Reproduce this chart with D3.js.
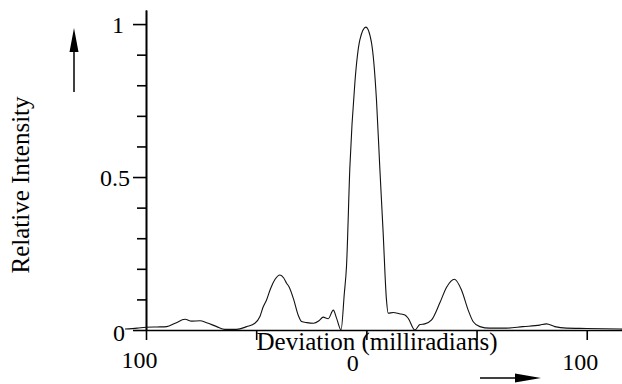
<!DOCTYPE html>
<html>
<head>
<meta charset="utf-8">
<script src="https://cdn.jsdelivr.net/npm/d3@7"></script>
<style>
  body { margin: 0; background: #fff; }
  svg { display: block; }
  text { font-family: "Liberation Serif", "Times New Roman", serif; fill: #000; }
</style>
</head>
<body>
<div id="chart"></div>
<script>
// deviation in milliradians
var deviation = [-109.5, -104, -100, -95, -90.6, -86.8, -82.3, -79.3, -75.5, -72.5,
    -67.9, -64.2, -58.9, -54.3, -50.6, -48.3, -46.8, -45.3, -43.5, -41.5,
    -39.2, -37.5, -36.2, -35, -33, -31, -29.4, -27, -24, -21.5,
    -19.6, -17.3, -15, -13.5, -11.5, -10, -9, -7.5, -5.2, -2.9,
    -0.2, 2.3, 4.6, 6.1, 7.6, 9.1, 9.9, 12.2, 15, 17.5,
    19, 22, 24.3, 26.5, 29.6, 33.3, 36.4, 40, 43.2, 46.2,
    48.5, 51.5, 56, 63.6, 71, 78.7, 81.7, 85.5, 90.8, 100, 116];
// relative intensity at each deviation
var intensity = [0.003, 0.006, 0.009, 0.010, 0.011, 0.022, 0.035, 0.029, 0.030, 0.024,
    0.011, 0.002, 0.002, 0.011, 0.022, 0.044, 0.076, 0.098, 0.135, 0.165,
    0.180, 0.170, 0.153, 0.140, 0.100, 0.050, 0.028, 0.024, 0.022, 0.030,
    0.042, 0.037, 0.065, 0.038, 0.0, 0.12, 0.21, 0.53, 0.81, 0.95,
    0.99, 0.94, 0.75, 0.53, 0.32, 0.10, 0.055, 0.057, 0.053, 0.049,
    0.038, 0.0, 0.018, 0.020, 0.033, 0.088, 0.14, 0.166, 0.13, 0.065,
    0.027, 0.011, 0.006, 0.006, 0.011, 0.016, 0.020, 0.011, 0.006, 0.005, 0.003];

var xTicks = [-100, -50, 0, 50, 100];
var xLabelled = [-100, 0, 100];
var yMajor = [0, 0.5, 1];
var yMinor = [0.1, 0.2, 0.3, 0.4, 0.6, 0.7, 0.8, 0.9];

var w = 622, h = 384;

var svg = d3.select("#chart").append("svg")
    .attr("width", w)
    .attr("height", h);

svg.append("rect").attr("width", w).attr("height", h).attr("fill", "#fff");

var x = d3.scaleLinear().domain([-100, 116]).range([146, 622]);
var y = d3.scaleLinear().domain([0, 1.046]).range([330, 10]);

// y axis: minor ticks then major ticks with labels
var yMinorAxis = d3.axisLeft(y).tickValues(yMinor).tickSize(9).tickSizeOuter(0).tickFormat("");
var yMajorAxis = d3.axisLeft(y).tickValues(yMajor).tickSize(13).tickSizeOuter(0)
    .tickPadding(3).tickFormat(function (d) { return d === 0 ? "0" : d3.format("")(d); });

svg.append("g")
    .attr("transform", "translate(" + x(-100) + ",0)")
    .call(yMinorAxis);
var gy = svg.append("g")
    .attr("transform", "translate(" + x(-100) + ",0)")
    .call(yMajorAxis);
gy.selectAll("text")
    .style("font-size", "24px")
    .attr("font-family", null)
    .attr("dx", function (d) { return d === 1 ? -6 : (d === 0 ? -5 : 0); })
    .attr("dy", function (d) { return d === 0 ? "0.42em" : "0.34em"; });

// x axis: ticks hang below, labels show magnitude only
var xAxis = d3.axisBottom(x).tickValues(xTicks).tickSize(10).tickSizeOuter(0)
    .tickPadding(6)
    .tickFormat(function (d) { return xLabelled.indexOf(d) >= 0 ? String(Math.abs(d)) : ""; });
var gx = svg.append("g")
    .attr("transform", "translate(0," + y(0) + ")")
    .call(xAxis);
gx.selectAll("text")
    .style("font-size", "24px")
    .attr("font-family", null)
    .attr("dx", function (d) { return d === 0 ? -14 : -7; })
    .attr("dy", function (d) { return d === 0 ? "1.05em" : (d === 100 ? "0.98em" : "0.9em"); });

svg.selectAll(".domain, .tick line")
    .attr("stroke", "#000")
    .attr("stroke-width", 1.6);

// trace
var pts = deviation.map(function (d, i) { return [d, intensity[i]]; });
var line = d3.line()
    .x(function (d) { return x(d[0]); })
    .y(function (d) { return y(d[1]); })
    .curve(d3.curveMonotoneX);

svg.append("path")
    .datum(pts)
    .attr("d", line)
    .attr("fill", "none")
    .attr("stroke", "#111")
    .attr("stroke-width", 1.1);

// axis titles
svg.append("text")
    .attr("transform", "translate(29,185) rotate(-90)")
    .attr("text-anchor", "middle")
    .style("font-size", "25px")
    .text("Relative Intensity");

svg.append("text")
    .attr("x", 377)
    .attr("y", 350)
    .attr("text-anchor", "middle")
    .style("font-size", "25px")
    .text("Deviation (milliradians)");

// direction arrows
svg.append("line")
    .attr("x1", 74).attr("y1", 92).attr("x2", 74).attr("y2", 48)
    .attr("stroke", "#000").attr("stroke-width", 1.5);
svg.append("path")
    .attr("d", "M74,28L69.5,52L78.5,52Z")
    .attr("fill", "#000");

svg.append("line")
    .attr("x1", 480).attr("y1", 378).attr("x2", 520).attr("y2", 378)
    .attr("stroke", "#000").attr("stroke-width", 1.5);
svg.append("path")
    .attr("d", "M541,378L515,373.5L515,382.5Z")
    .attr("fill", "#000");
</script>
</body>
</html>
